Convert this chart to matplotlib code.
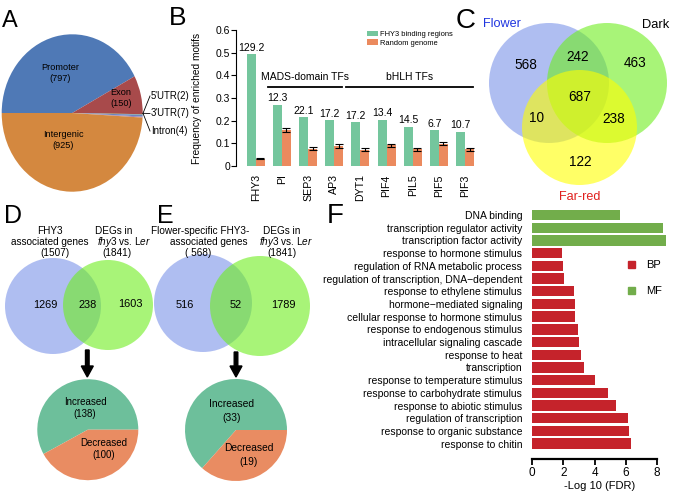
import matplotlib
matplotlib.use("Agg")
import matplotlib.pyplot as plt
import numpy as np
from matplotlib.patches import Circle, Patch

plt.rcParams['font.family'] = ['Liberation Sans', 'DejaVu Sans']
plt.rcParams['mathtext.fontset'] = 'custom'
plt.rcParams['mathtext.rm'] = 'Liberation Sans'
plt.rcParams['mathtext.it'] = 'Liberation Sans:italic'

W, H = 677, 493

# --- A: genomic distribution of binding peaks
region_names = ["Promoter", "Exon", "5'UTR", "3'UTR", "Intron", "Intergenic"]
region_counts = [797, 150, 2, 7, 4, 925]
region_colors = ["#4f79b6", "#a84a4b", "#7a9a50", "#6a86c2", "#9a7fb4", "#d4883f"]

# --- B: motif frequencies
motifs = ["FHY3", "PI", "SEP3", "AP3", "DYT1", "PIF4", "PIL5", "PIF5", "PIF3"]
binding_freq = [0.494, 0.271, 0.216, 0.201, 0.192, 0.204, 0.174, 0.157, 0.151]
random_freq = [0.032, 0.157, 0.076, 0.088, 0.071, 0.091, 0.073, 0.098, 0.073]
random_err = [0.003, 0.009, 0.006, 0.007, 0.007, 0.007, 0.007, 0.007, 0.006]
enrichment = ["129.2", "12.3", "22.1", "17.2", "17.2", "13.4", "14.5", "6.7", "10.7"]
tf_groups = [("MADS-domain TFs", 1, 3), ("bHLH TFs", 4, 8)]

# --- C: three-way overlap
venn3_counts = [568, 242, 463, 687, 10, 238, 122]
venn3_sets = ["Flower", "Dark", "Far-red"]

# --- D / E: overlaps with DEGs and direction of change
venn_d_counts = [1269, 238, 1603]
venn_e_counts = [516, 52, 1789]
change_names = ["Increased", "Decreased"]
change_d = [138, 100]
change_e = [33, 19]

# --- F: GO enrichment
go_terms = ["DNA binding", "transcription regulator activity", "transcription factor activity",
            "response to hormone stimulus", "regulation of RNA metabolic process",
            "regulation of transcription, DNA\u2212dependent", "response to ethylene stimulus",
            "hormone\u2212mediated signaling", "cellular response to hormone stimulus",
            "response to endogenous stimulus", "intracellular signaling cascade",
            "response to heat", "transcription", "response to temperature stimulus",
            "response to carbohydrate stimulus", "response to abiotic stimulus",
            "regulation of transcription", "response to organic substance", "response to chitin"]
go_logfdr = [5.6, 8.35, 8.56, 1.92, 1.98, 2.03, 2.67, 2.77, 2.77, 2.92, 2.99,
             3.16, 3.3, 4.0, 4.86, 5.37, 6.14, 6.18, 6.33]
go_class = ["MF"] * 3 + ["BP"] * 16

green = "#74c69d"
orange = "#eb8a5e"
class_colors = {"BP": "#c5232b", "MF": "#72ad4b"}

fig = plt.figure(figsize=(W / 100, H / 100), dpi=100)


def px_axes(x0, y0, x1, y1):
    return fig.add_axes([x0 / W, 1 - y1 / H, (x1 - x0) / W, (y1 - y0) / H])


# A pie
axa = px_axes(1.7, 34.3, 142.7, 191.7)
axa.pie(region_counts, colors=region_colors, startangle=180, counterclock=False)
axa.set_aspect('auto')
axa.set_xlim(-1, 1)
axa.set_ylim(-1, 1)

# B bars
axb = px_axes(236, 30, 480.7, 166)
x = np.arange(len(motifs))
bw = 0.344
b1 = axb.bar(x - bw / 2, binding_freq, bw, color=green, label="FHY3 binding regions")
b2 = axb.bar(x + bw / 2, random_freq, bw, color=orange, label="Random genome",
             yerr=random_err, capsize=2.6,
             error_kw=dict(elinewidth=0.8, capthick=0.8, ecolor='black'))
for xi, h, t in zip(x, binding_freq, enrichment):
    axb.text(xi - bw / 2, h + 0.006, t, ha='center', va='bottom', fontsize=7.5)
for name, g0, g1 in tf_groups:
    axb.plot([g0 - 0.53, g1 + 0.3], [0.348, 0.348], color='black', lw=1.3, clip_on=False)
    axb.text((g0 + g1) / 2 - 0.1, 0.372, name, ha='center', va='bottom', fontsize=7.5)
axb.set_xlim(-0.753, 8.6)
axb.set_ylim(0, 0.6)
axb.set_yticks(np.arange(0, 0.61, 0.1))
axb.set_yticklabels(["0"] + ["%.1f" % v for v in np.arange(0.1, 0.61, 0.1)], fontsize=7.5)
axb.set_xticks(x)
axb.set_xticklabels(motifs, rotation=90, fontsize=7.7)
axb.tick_params(axis='x', length=0, pad=6)
axb.tick_params(axis='y', length=3.4, width=0.8, pad=1)
for s in ['top', 'right', 'bottom']:
    axb.spines[s].set_visible(False)
axb.spines['left'].set_linewidth(0.8)
axb.set_ylabel("Frequency of enriched motifs", fontsize=7.3)
axb.yaxis.set_label_coords(-0.139, 0.5)
axb.legend(handles=[b1, b2], loc='upper left', bbox_to_anchor=(367 / W, 1 - 31 / H),
           bbox_transform=fig.transFigure, frameon=False, fontsize=5.4,
           handlelength=1.45, handleheight=0.7, handletextpad=0.35,
           labelspacing=0.15, borderpad=0, borderaxespad=0)

# D / E pies
for rect, vals in [((37.3, 379.2, 138.3, 480.2), change_d), ((185, 379, 287, 481), change_e)]:
    axp = px_axes(*rect)
    axp.pie(vals, colors=["#6dbf9b", "#e98c62"], startangle=0, counterclock=True)
    axp.set_aspect('auto')
    axp.set_xlim(-1, 1)
    axp.set_ylim(-1, 1)

# F GO bars
axf = px_axes(532, 207.4, 668, 459)
yy = np.arange(len(go_terms))
axf.barh(yy, go_logfdr, height=0.82, color=[class_colors[c] for c in go_class])
axf.set_xlim(0, 8.7)
axf.set_ylim(19.21, -0.6)
axf.set_yticks(yy)
axf.set_yticklabels(go_terms, fontsize=7.5)
axf.tick_params(axis='y', length=0, pad=7)
axf.set_xticks([0, 2, 4, 6, 8])
axf.tick_params(axis='x', length=4, width=1.3, labelsize=8.5, pad=1.5)
for s in ['top', 'right', 'left']:
    axf.spines[s].set_visible(False)
axf.spines['bottom'].set_bounds(0, 8)
axf.spines['bottom'].set_linewidth(1.6)
axf.set_xlabel("-Log 10 (FDR)", fontsize=8, labelpad=2)
axf.legend(handles=[Patch(color=class_colors["BP"], label="BP"),
                    Patch(color=class_colors["MF"], label="MF")],
           loc='upper left', bbox_to_anchor=(628 / W, 1 - 260 / H),
           bbox_transform=fig.transFigure, frameon=False, fontsize=8,
           handlelength=0.65, handleheight=0.6, handletextpad=1.0,
           labelspacing=1.45, borderpad=0, borderaxespad=0)

# overlay in pixel coordinates
ov = fig.add_axes([0, 0, 1, 1])
ov.set_xlim(0, W)
ov.set_ylim(H, 0)
ov.axis('off')

# A labels
ov.text(60, 73, "%s\n(%d)" % (region_names[0], region_counts[0]), ha='center', va='center', fontsize=6.6)
ov.text(121, 98, "%s\n(%d)" % (region_names[1], region_counts[1]), ha='center', va='center', fontsize=6.6)
ov.text(63, 140, "%s\n(%d)" % (region_names[5], region_counts[5]), ha='center', va='center', fontsize=6.6)
for i, ly in zip([2, 3, 4], [96, 113.5, 131]):
    ov.plot([143, 150], [113.3, ly], color='black', lw=0.6)
    ov.text(151, ly, "%s(%d)" % (region_names[i], region_counts[i]), va='center', fontsize=6.9)

# C venn
for (cx, cy, r), col in zip([(549, 83, 60), (607, 83, 60), (579.5, 127.5, 57.5)],
                            ["#7b93e9", "#6eee1e", "#ffff00"]):
    ov.add_patch(Circle((cx, cy), r, facecolor=col, alpha=0.6, edgecolor='none'))
for (tx, ty), n in zip([(526, 65), (578, 57), (635, 63), (580, 97), (536, 118), (614, 119), (580, 162)],
                       venn3_counts):
    ov.text(tx, ty, str(n), ha='center', va='center', fontsize=9.8)
ov.text(502, 24, venn3_sets[0], ha='center', va='center', fontsize=9.1, color='#1f35e0')
ov.text(656, 25, venn3_sets[1], ha='center', va='center', fontsize=9.3, color='black')
ov.text(580, 197, venn3_sets[2], ha='center', va='center', fontsize=9.1, color='#e0201e')

# D / E venns
for circles, counts, pos in [
        ([(53, 306, 48), (108, 305, 45)], venn_d_counts, [(45, 305), (88, 305), (130, 304)]),
        ([(203, 303, 49), (260, 306, 50)], venn_e_counts, [(185, 305), (236, 305), (283, 305)])]:
    for (cx, cy, r), col in zip(circles, ["#7b93e9", "#6eee1e"]):
        ov.add_patch(Circle((cx, cy), r, facecolor=col, alpha=0.6, edgecolor='none'))
    for (tx, ty), n in zip(pos, counts):
        ov.text(tx, ty, str(n), ha='center', va='center', fontsize=7.9)

deg_line = r"$\it{fhy3}$ vs. L$\it{er}$"
for tx, ty, t in [(50, 231, "FHY3"), (50, 242, "associated genes"), (55, 253, "(1507)"),
                  (114, 231, "DEGs in"), (124, 242, deg_line), (117, 253, "(1841)"),
                  (200, 231, "Flower-specific FHY3-"), (209, 242, "associated genes"),
                  (198, 253, "( 568)"),
                  (282, 231, "DEGs in"), (286, 242, deg_line), (282, 253, "(1841)")]:
    ov.text(tx, ty, t, ha='center', va='center', fontsize=7.2)

for ax0, y0, y1 in [(87.3, 350, 377), (236, 352, 377)]:
    ov.arrow(ax0, y0, 0, y1 - y0, width=3.6, head_width=12, head_length=11,
             length_includes_head=True, color='black')

# D / E pie labels
for (tx, ty), name, n in zip([(85, 408), (104, 449)], change_names, change_d):
    ov.text(tx, ty, "%s\n(%d)" % (name, n), ha='center', va='center', fontsize=7.0)
for (tx, ty), name, n in zip([(232, 411), (249, 455)], change_names, change_e):
    ov.text(tx, ty, "%s\n(%d)" % (name, n), ha='center', va='center', fontsize=7.4, linespacing=1.5)

# panel letters
for tx, ty, t, fs in [(2, 27, "A", 17), (169, 25, "B", 19), (456, 28, "C", 20),
                      (4, 223, "D", 18), (157, 223, "E", 18), (327, 223, "F", 20)]:
    ov.text(tx, ty, t, ha='left', va='baseline', fontsize=fs)

fig.savefig("out.png", dpi=100)
